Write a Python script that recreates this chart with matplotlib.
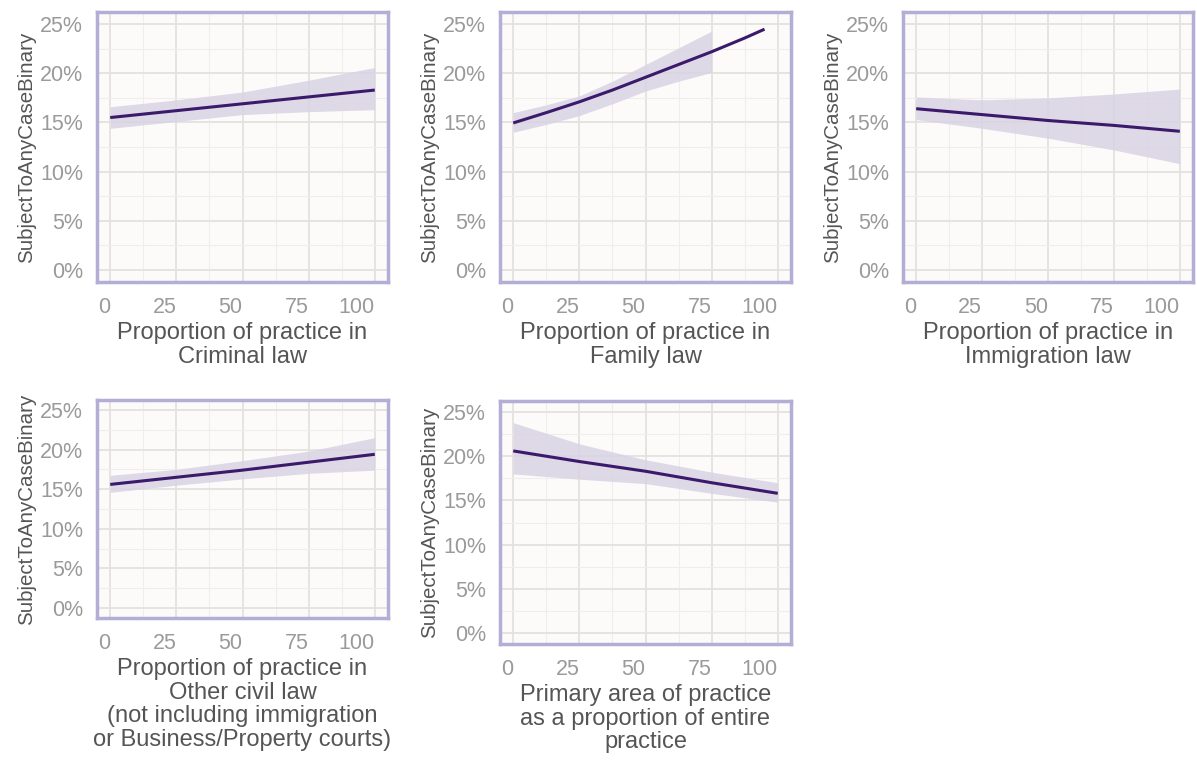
import numpy as np
import matplotlib.pyplot as plt
from matplotlib.ticker import MultipleLocator, FuncFormatter

plt.rcParams['font.family'] = ['Liberation Sans', 'DejaVu Sans']

# x positions of the model predictions (percent of practice)
x_pts = [0, 25, 50, 75, 100]

# predicted probability (%) with lower / upper confidence bounds
criminal_fit = [15.5, 16.2, 16.9, 17.6, 18.3]
criminal_lo = [14.4, 15.1, 15.8, 16.1, 16.3]
criminal_hi = [16.6, 17.3, 18.1, 19.3, 20.6]

family_x = [0, 12.5, 25, 37.5, 50, 62.5, 75, 87.5, 95]
family_fit = [14.95, 16.0, 17.1, 18.3, 19.6, 20.9, 22.2, 23.6, 24.5]
family_ribbon_x = [0, 12.5, 25, 37.5, 50, 62.5, 75]
family_lo = [14.0, 14.8, 15.7, 16.9, 18.2, 19.2, 20.1]
family_hi = [16.0, 16.8, 17.7, 19.2, 20.9, 22.6, 24.3]

immig_fit = [16.4, 15.8, 15.2, 14.7, 14.1]
immig_lo = [15.3, 14.4, 13.4, 12.2, 10.8]
immig_hi = [17.6, 17.3, 17.5, 17.9, 18.4]

other_fit = [15.6, 16.5, 17.4, 18.4, 19.4]
other_lo = [14.6, 15.5, 16.3, 17.0, 17.4]
other_hi = [16.75, 17.5, 18.6, 19.8, 21.5]

primary_fit = [20.6, 19.4, 18.3, 17.0, 15.8]
primary_lo = [18.0, 17.4, 16.9, 15.8, 14.8]
primary_hi = [23.8, 21.4, 19.6, 18.2, 17.0]

xlabels = [
    "Proportion of practice in\nCriminal law",
    "Proportion of practice in\nFamily law",
    "Proportion of practice in\nImmigration law",
    "Proportion of practice in\nOther civil law\n(not including immigration\nor Business/Property courts)",
    "Primary area of practice\nas a proportion of entire\npractice",
]

W, H = 1197, 760
fig = plt.figure(figsize=(W / 100, H / 100), dpi=100)
fig.patch.set_facecolor('white')

# panel boxes in pixels: left, top, right, bottom
boxes = [
    (97, 12, 388, 282),
    (500, 12, 791, 282),
    (903, 12, 1193, 282),
    (97, 400, 388, 618),
    (500, 401, 791, 644),
]

line_col = '#3b1a6b'
fill_col = '#d9d3e4'
border_col = '#b2aed6'


def make_ax(box):
    l, t, r, b = box
    ax = fig.add_axes([l / W, 1 - b / H, (r - l) / W, (b - t) / H])
    ax.set_facecolor('#fcfbf9')
    ax.set_xlim(-5, 105)
    ax.set_ylim(-1.25, 26.25)
    ax.xaxis.set_major_locator(MultipleLocator(25))
    ax.xaxis.set_minor_locator(MultipleLocator(12.5))
    ax.yaxis.set_major_locator(MultipleLocator(5))
    ax.yaxis.set_minor_locator(MultipleLocator(2.5))
    ax.yaxis.set_major_formatter(FuncFormatter(lambda v, p: f"{v:.0f}%"))
    ax.grid(which='major', color='#e4e2df', lw=1.3)
    ax.grid(which='minor', color='#efeeec', lw=0.8)
    ax.set_axisbelow(True)
    ax.tick_params(which='both', length=0, colors='#9a9a9a', labelsize=15.5)
    ax.tick_params(axis='x', pad=11)
    ax.tick_params(axis='y', pad=10)
    for s in ax.spines.values():
        s.set_color(border_col)
        s.set_linewidth(2.5)
    ax.set_ylabel("SubjectToAnyCaseBinary", color='#555555', fontsize=14.8, labelpad=3)
    return ax


panels = [
    (x_pts, criminal_fit, x_pts, criminal_lo, criminal_hi),
    (family_x, family_fit, family_ribbon_x, family_lo, family_hi),
    (x_pts, immig_fit, x_pts, immig_lo, immig_hi),
    (x_pts, other_fit, x_pts, other_lo, other_hi),
    (x_pts, primary_fit, x_pts, primary_lo, primary_hi),
]

for box, (fx, fy, rx, lo, hi), xl in zip(boxes, panels, xlabels):
    ax = make_ax(box)
    ax.fill_between(rx, lo, hi, color=fill_col, alpha=0.85, lw=0)
    ax.plot(fx, fy, color=line_col, lw=2.2, solid_capstyle='butt')
    ax.set_xlabel(xl, color='#555555', fontsize=17, labelpad=3, linespacing=1.08)
    plt.setp(ax.get_xticklabels(), ha='right')

fig.savefig('out.png', dpi=100)
